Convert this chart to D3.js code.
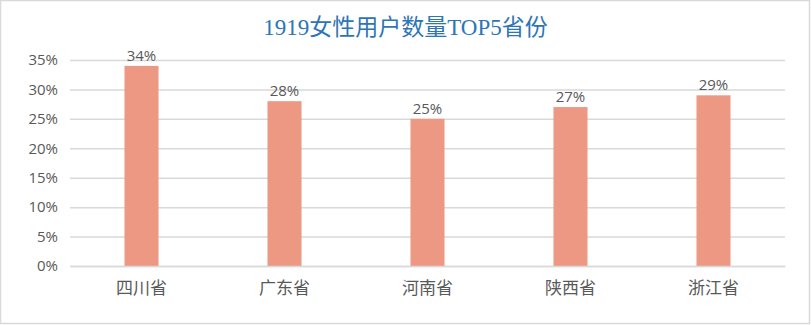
<!DOCTYPE html>
<html><head><meta charset="utf-8">
<script src="https://cdn.jsdelivr.net/npm/d3@7"></script>
<style>body{margin:0;background:#fff;}svg{display:block;}</style>
</head><body>
<svg id="c" width="811" height="325"></svg>
<script>
const categories = ["四川省","广东省","河南省","陕西省","浙江省"];
const values = [0.34,0.28,0.25,0.27,0.29];
const yTicks = [0,0.05,0.10,0.15,0.20,0.25,0.30,0.35];
const title = "1919女性用户数量TOP5省份";

const svg = d3.select("#c");
const W = 811, H = 325;
svg.append("rect").attr("x",0.5).attr("y",0.5).attr("width",W-2).attr("height",H-2)
  .attr("fill","#fff").attr("stroke","#d9d9d9").attr("stroke-width",1.5);

const mL = 70, mR = 785, mT = 60, mB = 266;
const x = d3.scaleBand().domain(categories).range([mL,mR]).paddingInner(0.762).paddingOuter(0.381);
const y = d3.scaleLinear().domain([0,0.35]).range([mB,mT]);

const fmt = d3.format(".0%");
const gy = svg.append("g").attr("transform",`translate(${mL},0)`)
  .call(d3.axisLeft(y).tickValues(yTicks).tickFormat(fmt).tickSize(-(mR-mL)).tickPadding(12));
gy.select(".domain").remove();
gy.selectAll(".tick line").attr("stroke","#d9d9d9").attr("stroke-width",1.5);
gy.selectAll(".tick text").attr("fill","#595959").style("font-size","15px")
  .style("font-family","'Open Sans','DejaVu Sans',sans-serif");

svg.append("g").selectAll("rect.bar").data(values).join("rect")
  .attr("x",(d,i)=>x(categories[i])).attr("width",x.bandwidth())
  .attr("y",d=>y(d)).attr("height",d=>y(0)-y(d)).attr("fill","#ed9882");

svg.append("g").selectAll("text").data(values).join("text")
  .attr("x",(d,i)=>x(categories[i])+x.bandwidth()/2).attr("y",d=>y(d)-5)
  .attr("text-anchor","middle").attr("fill","#595959").style("font-size","15px")
  .style("font-family","'Open Sans','DejaVu Sans',sans-serif").text(d=>fmt(d));

const gx = svg.append("g").attr("transform",`translate(0,${mB})`)
  .call(d3.axisBottom(x).tickSize(0).tickPadding(16));
gx.select(".domain").attr("stroke","#d9d9d9").attr("stroke-width",1.5);
gx.selectAll(".tick text").attr("fill","#595959").style("font-size","17px")
  .style("font-family","'Noto Sans CJK SC',sans-serif");

svg.append("text").attr("x",W/2).attr("y",35).attr("text-anchor","middle")
  .attr("fill","#2e75b6").style("font-size","23px")
  .style("font-family","'Liberation Serif','Noto Sans CJK SC',serif").text(title);
</script>
</body></html>
